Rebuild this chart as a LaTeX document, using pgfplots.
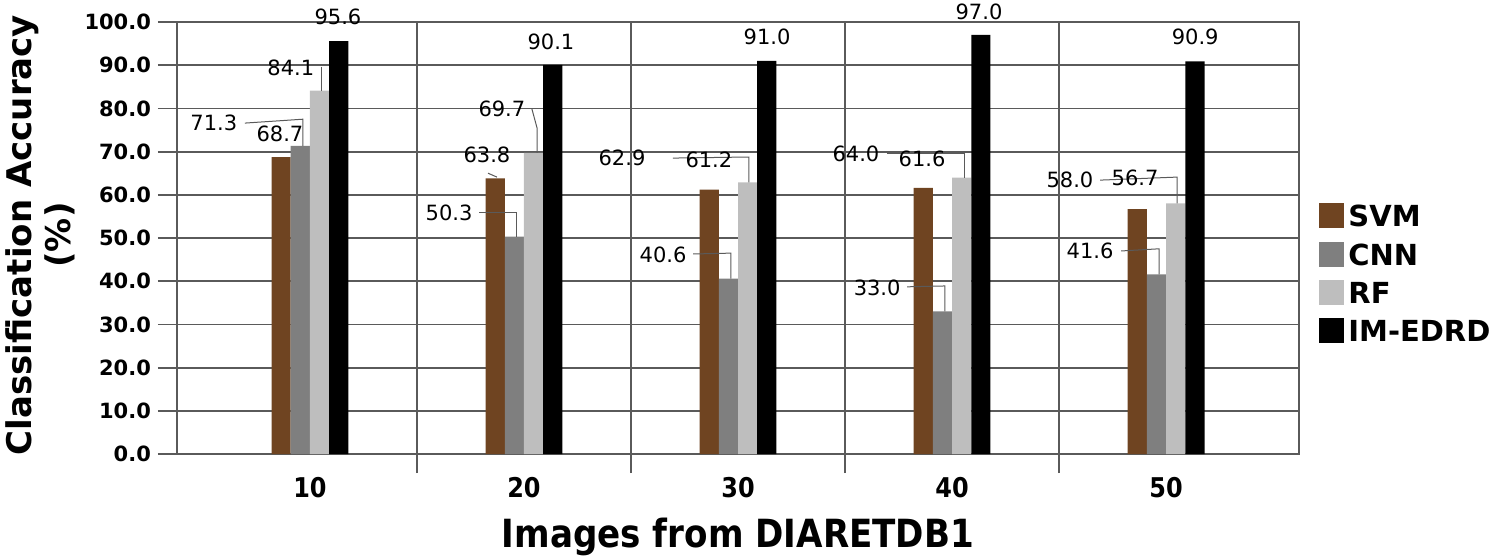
\documentclass[border=0pt]{standalone}
\usepackage{fontspec}
\setmainfont{DejaVu Sans}
\newfontfamily\condfont{DejaVu Sans}[FakeStretch=0.88]
\usepackage{pgfplots}
\usepackage{pgfplotstable}
\pgfplotsset{compat=1.18}

\definecolor{svmc}{HTML}{6F4421}
\definecolor{cnnc}{HTML}{7F7F7F}
\definecolor{rfc}{HTML}{BEBEBE}
\definecolor{gridc}{HTML}{5A5A5A}

% accuracy per number of images (positions 0..4 stand for 10..50)
\pgfplotstableread{
x svm cnn rf imedrd
0 68.7 71.3 84.1 95.6
1 63.8 50.3 69.7 90.1
2 61.2 40.6 62.9 91.0
3 61.6 33.0 64.0 97.0
4 56.7 41.6 58.0 90.9
}\acc

\pgfplotsset{
  sqlegend/.style={legend image code/.code={\fill[##1] (0pt,-5.5pt) rectangle (12.5pt,7pt);}},
}
\tikzset{
  vlab/.style={font=\fontsize{10.5}{12}\selectfont, inner sep=0pt, anchor=center},
  lead/.style={gridc, line width=0.5pt},
}

\begin{document}
\begin{tikzpicture}
\useasboundingbox (-88.5pt,-52.5pt) rectangle (664pt,227pt);
\begin{axis}[
  scale only axis,
  width=561pt, height=216pt,
  clip=false,
  xmin=-0.621, xmax=4.621,
  ymin=0, ymax=100,
  ybar=0pt, bar width=0.0897,
  xtick={0.5,1.5,2.5,3.5}, xticklabels={},
  extra x ticks={0,1,2,3,4},
  extra x tick labels={10,20,30,40,50},
  extra x tick style={grid=none, major tick length=0pt,
    xticklabel style={font=\condfont\bfseries\fontsize{13.6}{15}\selectfont, yshift=-8pt}},
  ytick={0,10,...,100},
  yticklabel={\pgfmathprintnumber[fixed,fixed zerofill,precision=1,assume math mode=true]{\tick}},
  yticklabel style={font=\bfseries\fontsize{10.5}{12}\selectfont},
  xtick pos=bottom, ytick pos=left,
  tick align=outside,
  major tick length=9.5pt,
  tick style={gridc, line width=0.9pt},
  xmajorgrids, ymajorgrids,
  grid style={gridc, line width=0.9pt},
  axis line style={gridc, line width=0.9pt},
  every axis y label/.style={at={(axis description cs:-0.122,0.507)}, rotate=90, anchor=center,
    align=center, font=\bfseries\fontsize{17}{19.5}\selectfont},
  ylabel={Classification Accuracy\\(\%)},
  every axis x label/.style={at={(axis description cs:0.5,-0.192)}, anchor=center,
    font=\condfont\bfseries\fontsize{19.4}{22}\selectfont},
  xlabel={Images from DIARETDB1},
  legend style={at={(axis description cs:1.0125,0.415)}, anchor=west, draw=none, fill=none,
    font=\bfseries\fontsize{14.5}{16}\selectfont, row sep=3pt},
  legend cell align=left,
]
\addplot[draw=none, fill=svmc, bar shift=-0.1346, sqlegend]
  table[x=x, y=svm] {\acc};
\addplot[draw=none, fill=cnnc, bar shift=-0.0449, sqlegend]
  table[x=x, y=cnn] {\acc};
\addplot[draw=none, fill=rfc, bar shift=0.0449, sqlegend]
  table[x=x, y=rf] {\acc};
\addplot[draw=none, fill=black, bar shift=0.1346, sqlegend]
  table[x=x, y=imedrd] {\acc};
\legend{SVM, CNN, RF, IM-EDRD}

% value labels and leader lines
\node[vlab] at (axis cs:0.131,101.2) {95.6};
\node[vlab] at (axis cs:-0.089,89.5) {84.1};
\draw[lead] (axis cs:0.056,89.6) -- (axis cs:0.056,84.1);
\node[vlab] at (axis cs:-0.449,76.7) {71.3};
\draw[lead] (axis cs:-0.304,76.6) -- (axis cs:-0.033,77.5) -- (axis cs:-0.033,71.3);
\node[vlab] at (axis cs:-0.140,74.1) {68.7};

\node[vlab] at (axis cs:1.126,95.4) {90.1};
\node[vlab] at (axis cs:0.897,79.9) {69.7};
\draw[lead] (axis cs:1.037,79.9) -- (axis cs:1.061,75.5) -- (axis cs:1.061,69.7);
\node[vlab] at (axis cs:0.827,69.2) {63.8};
\draw[lead] (axis cs:0.832,65.0) -- (axis cs:0.874,64.1);
\node[vlab] at (axis cs:0.650,55.8) {50.3};
\draw[lead] (axis cs:0.790,55.8) -- (axis cs:0.967,55.8) -- (axis cs:0.967,50.3);

\node[vlab] at (axis cs:2.136,96.5) {91.0};
\node[vlab] at (axis cs:1.458,68.5) {62.9};
\draw[lead] (axis cs:1.696,68.5) -- (axis cs:2.051,68.75) -- (axis cs:2.051,62.9);
\node[vlab] at (axis cs:1.864,68.1) {61.2};
\node[vlab] at (axis cs:1.650,46.1) {40.6};
\draw[lead] (axis cs:1.790,46.3) -- (axis cs:1.967,46.5) -- (axis cs:1.967,40.6);

\node[vlab] at (axis cs:3.126,102.3) {97.0};
\node[vlab] at (axis cs:2.551,69.4) {64.0};
\draw[lead] (axis cs:2.696,69.6) -- (axis cs:3.056,69.6) -- (axis cs:3.056,64.0);
\node[vlab] at (axis cs:2.860,68.3) {61.6};
\node[vlab] at (axis cs:2.650,38.4) {33.0};
\draw[lead] (axis cs:2.790,38.7) -- (axis cs:2.967,38.9) -- (axis cs:2.967,33.0);

\node[vlab] at (axis cs:4.136,96.5) {90.9};
\node[vlab] at (axis cs:3.551,63.4) {58.0};
\draw[lead] (axis cs:3.692,63.4) -- (axis cs:4.051,64.1) -- (axis cs:4.051,58.0);
\node[vlab] at (axis cs:3.855,63.9) {56.7};
\node[vlab] at (axis cs:3.645,47.0) {41.6};
\draw[lead] (axis cs:3.790,47.0) -- (axis cs:3.967,47.5) -- (axis cs:3.967,41.6);
\end{axis}
\end{tikzpicture}
\end{document}
